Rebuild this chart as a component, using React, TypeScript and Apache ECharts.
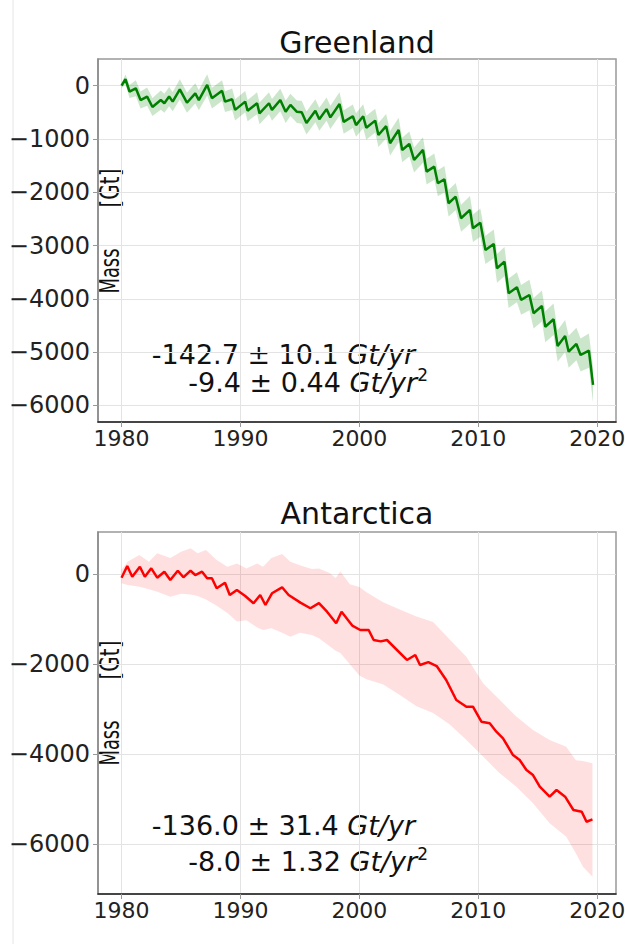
import React, { useEffect, useRef } from "react";
import * as echarts from "echarts";

// Greenland: [decimal year, mass (Gt), 1-sigma uncertainty (Gt)]
const greenlandObs: [number, number, number][] = [
  [1980.0, 0, 50], [1980.33, 120, 90], [1980.67, -110, 120], [1981.2, -50, 150],
  [1981.6, -270, 160], [1982.15, -205, 170], [1982.6, -400, 170], [1983.3, -270, 180],
  [1983.6, -330, 180], [1984.0, -205, 180], [1984.3, -300, 180], [1984.9, -70, 190],
  [1985.5, -320, 190], [1986.2, -145, 190], [1986.5, -270, 190], [1987.2, 15, 200],
  [1987.6, -235, 195], [1988.45, -95, 195], [1988.7, -300, 195], [1989.3, -255, 200],
  [1989.55, -455, 200], [1990.4, -300, 200], [1990.6, -470, 200], [1991.4, -330, 205],
  [1991.6, -520, 205], [1992.4, -330, 205], [1992.65, -455, 205], [1993.35, -270, 210],
  [1993.8, -490, 210], [1994.2, -360, 210], [1994.75, -490, 210], [1995.15, -500, 215],
  [1995.55, -700, 215], [1996.3, -470, 215], [1996.63, -630, 215], [1997.24, -440, 220],
  [1997.56, -595, 220], [1998.33, -345, 220], [1998.68, -680, 220], [1999.45, -575, 220],
  [1999.72, -740, 220], [2000.32, -575, 225], [2000.58, -790, 225], [2001.33, -656, 225],
  [2001.6, -925, 225], [2002.25, -760, 230], [2002.58, -1080, 230], [2003.3, -830, 230],
  [2003.6, -1206, 230], [2004.2, -1094, 235], [2004.6, -1394, 235], [2005.35, -1206, 240],
  [2005.65, -1613, 240], [2006.3, -1520, 245], [2006.6, -1831, 245], [2007.15, -1756, 250],
  [2007.5, -2206, 250], [2008.1, -2083, 255], [2008.55, -2488, 255], [2009.3, -2332, 260],
  [2009.55, -2675, 260], [2010.17, -2570, 265], [2010.6, -3082, 265], [2011.3, -2970, 270],
  [2011.57, -3426, 270], [2012.2, -3302, 275], [2012.55, -3895, 275], [2013.25, -3782, 280],
  [2013.6, -4020, 280], [2014.3, -3927, 285], [2014.65, -4270, 285], [2015.35, -4133, 290],
  [2015.63, -4522, 290], [2016.33, -4383, 295], [2016.67, -4884, 295], [2017.3, -4696, 300],
  [2017.6, -4991, 300], [2018.25, -4846, 305], [2018.6, -5053, 310], [2019.3, -4972, 320],
  [2019.65, -5615, 335],
];

// Antarctica mass line: [decimal year, mass (Gt)]
const antarcticaMass: [number, number][] = [
  [1980.0, -75], [1980.48, 184], [1980.9, -53], [1981.54, 169], [1981.96, -53],
  [1982.5, 133], [1983.0, -75], [1983.6, 58], [1984.1, -127], [1984.73, 80],
  [1985.2, -67], [1985.8, 80], [1986.2, -16], [1986.77, 58], [1987.2, -89],
  [1987.6, -89], [1988.0, -311], [1988.7, -187], [1989.1, -460], [1989.7, -349],
  [1990.4, -482], [1991.1, -644], [1991.66, -460], [1992.1, -682], [1992.65, -422],
  [1993.5, -289], [1994.05, -460], [1995.04, -630], [1995.88, -755], [1996.6, -640],
  [1997.28, -831], [1998.05, -1089], [1998.5, -831], [1999.4, -1140], [2000.08, -1238],
  [2000.78, -1238], [2001.2, -1460], [2001.8, -1490], [2002.32, -1460], [2003.16, -1682],
  [2004.0, -1904], [2004.7, -1793], [2005.1, -2016], [2005.8, -1950], [2006.5, -2038],
  [2007.3, -2349], [2008.15, -2793], [2009.0, -2942], [2009.55, -2942], [2010.26, -3276],
  [2010.96, -3311], [2011.52, -3498], [2012.08, -3644], [2012.92, -4016], [2013.48, -4127],
  [2014.05, -4349], [2014.6, -4460], [2015.17, -4720], [2016.0, -4942], [2016.58, -4793],
  [2017.3, -4942], [2018.0, -5238], [2018.7, -5276], [2019.1, -5498], [2019.6, -5444],
];

// Antarctica uncertainty envelope: [decimal year, upper (Gt), lower (Gt)]
const antarcticaBand: [number, number, number][] = [
  [1980.0, 100, -200], [1980.5, 280, -240], [1981.5, 430, -275], [1982.3, 280, -330],
  [1983.0, 470, -390], [1984.1, 360, -500], [1985.0, 500, -430], [1985.8, 580, -450],
  [1986.4, 470, -480], [1987.1, 540, -560], [1988.0, 320, -700], [1988.9, 170, -860],
  [1989.7, 240, -1050], [1990.5, 130, -1020], [1991.4, 240, -1180], [1991.9, 170, -1240],
  [1992.6, 360, -1200], [1993.5, 450, -1300], [1994.2, 280, -1390], [1995.0, 200, -1300],
  [1996.0, 120, -1350], [1996.6, 130, -1420], [1997.5, 30, -1600], [1998.0, -80, -1700],
  [1998.4, 60, -1750], [1999.2, -220, -2000], [2000.0, -280, -2250], [2000.6, -400, -2330],
  [2002.0, -620, -2450], [2003.4, -780, -2680], [2004.8, -940, -2930], [2006.2, -1060, -3080],
  [2007.6, -1450, -3340], [2009.0, -1830, -3680], [2010.4, -2420, -4050], [2011.8, -2790, -4420],
  [2013.2, -3160, -4720], [2014.6, -3460, -5090], [2016.0, -3680, -5530], [2017.4, -3830, -5830],
  [2018.2, -4130, -6200], [2018.8, -4150, -6500], [2019.6, -4200, -6720],
];

const xTicks = [1980, 1990, 2000, 2010, 2020];
const greenlandYTicks = [-6000, -5000, -4000, -3000, -2000, -1000, 0];
const antarcticaYTicks = [-6000, -4000, -2000, 0];

const titles = ["Greenland", "Antarctica"];
const greenlandRates = ["-142.7 ± 10.1 ", "-9.4 ± 0.44 "];
const antarcticaRates = ["-136.0 ± 31.4 ", "-8.0 ± 1.32 "];

const FONT = "DejaVu Sans";

export default function App() {
  const ref = useRef<HTMLDivElement>(null);

  useEffect(() => {
    if (!ref.current) return;
    const chart = echarts.init(ref.current, undefined, { renderer: "svg" });

    const fmtY = (v: number) => (v < 0 ? "\u2212" + Math.abs(v) : String(v));

    const mkX = (gridIndex: number) => ({
      type: "value",
      gridIndex,
      min: 1978.02,
      max: 2021.58,
      axisLine: { show: true, onZero: false, lineStyle: { color: "#222", width: 1.5 } },
      axisTick: { show: true, length: 5, customValues: xTicks, lineStyle: { color: "#999" } },
      axisLabel: {
        customValues: xTicks,
        formatter: (v: number) => String(v),
        fontFamily: FONT,
        fontSize: 22,
        color: "#222",
        margin: 5,
      },
      splitLine: { show: true, lineStyle: { color: "#e3e3e3", width: 1 } },
    });

    const mkY = (gridIndex: number, min: number, max: number, ticks: number[]) => ({
      type: "value",
      gridIndex,
      min,
      max,
      axisLine: { show: true, onZero: false, lineStyle: { color: "#888", width: 1.5 } },
      axisTick: { show: true, length: 5, customValues: ticks, lineStyle: { color: "#999" } },
      axisLabel: {
        customValues: ticks,
        formatter: fmtY,
        fontFamily: FONT,
        fontSize: 24,
        color: "#222",
        margin: 8,
      },
      splitLine: { show: true, lineStyle: { color: "#e3e3e3", width: 1 } },
    });

    const gBand = greenlandObs.map((d) => [d[0], d[1] + d[2], d[1] - d[2]]);
    const gLine = greenlandObs.map((d) => [d[0], d[1]]);
    const aBand = antarcticaBand.map((d) => [d[0], d[1], d[2]]);

    const bandSeries = (axis: number, band: number[][], fill: string) => ({
      type: "custom",
      xAxisIndex: axis,
      yAxisIndex: axis,
      data: band,
      encode: { x: 0, y: [1, 2] },
      silent: true,
      z: 1,
      renderItem: (params: any, api: any) => {
        if (params.dataIndex !== 0) return null;
        const upper = band.map((d) => api.coord([d[0], d[1]]));
        const lower = band.map((d) => api.coord([d[0], d[2]])).reverse();
        return {
          type: "polygon",
          shape: { points: upper.concat(lower) },
          style: { fill },
        };
      },
    });

    const rich = {
      n: { fontFamily: FONT, fontSize: 27, fill: "#111", lineHeight: 32 },
      i: { fontFamily: FONT, fontSize: 27, fill: "#111", fontStyle: "italic", lineHeight: 32 },
      s: { fontFamily: FONT, fontSize: 17, fill: "#111", verticalAlign: "top", lineHeight: 32 },
    };

    const annot = (rates: string[], yc1: number, yc2: number) => [
      {
        type: "text",
        x: 415,
        y: yc1,
        style: { text: `{n|${rates[0]}}{i|Gt/yr}`, rich, align: "right", verticalAlign: "middle", fill: "#111" },
      },
      {
        type: "text",
        x: 428,
        y: yc2,
        style: { text: `{n|${rates[1]}}{i|Gt/yr}{s|2}`, rich, align: "right", verticalAlign: "middle", fill: "#111" },
      },
    ];

    const ylabStyle = { fontFamily: FONT, fontSize: 27, fill: "#111", align: "center", verticalAlign: "middle" };
    const ylab = (yGt: number, yMass: number) => [
      { type: "text", x: 110, y: yGt, rotation: Math.PI / 2, scaleX: 0.74, style: { ...ylabStyle, text: "[Gt]" } },
      { type: "text", x: 110, y: yMass, rotation: Math.PI / 2, scaleX: 0.66, style: { ...ylabStyle, text: "Mass" } },
    ];

    const titleText = (text: string, y: number) => ({
      type: "text",
      x: 357,
      y,
      style: { text, fontFamily: FONT, fontSize: 30, fill: "#111", align: "center", verticalAlign: "middle" },
    });

    chart.setOption({
      animation: false,
      backgroundColor: "#fff",
      grid: [
        { left: 98, top: 59, width: 518, height: 363, show: true, borderColor: "#999", borderWidth: 1.5, containLabel: false, outerBoundsMode: "none" },
        { left: 98, top: 532, width: 518, height: 362, show: true, borderColor: "#999", borderWidth: 1.5, containLabel: false, outerBoundsMode: "none" },
      ],
      xAxis: [mkX(0), mkX(1)],
      yAxis: [mkY(0, -6310, 500, greenlandYTicks), mkY(1, -7104, 940, antarcticaYTicks)],
      graphic: [
        { type: "line", shape: { x1: 13, y1: 0, x2: 13, y2: 944 }, style: { stroke: "#e6e6e6", lineWidth: 1 } },
        titleText(titles[0], 42),
        titleText(titles[1], 513),
        ...annot(greenlandRates, 354, 382),
        ...annot(antarcticaRates, 825, 861),
        ...ylab(188, 271),
        ...ylab(660, 743),
      ],
      series: [
        bandSeries(0, gBand, "rgba(0,128,0,0.2)"),
        {
          type: "line", xAxisIndex: 0, yAxisIndex: 0, data: gLine,
          symbol: "none", lineStyle: { color: "#008000", width: 2.5 }, z: 5,
        },
        bandSeries(1, aBand, "rgba(255,0,0,0.12)"),
        {
          type: "line", xAxisIndex: 1, yAxisIndex: 1, data: antarcticaMass,
          symbol: "none", lineStyle: { color: "#ff0000", width: 2.5 }, z: 5,
        },
      ],
    });

    return () => chart.dispose();
  }, []);

  return (
    <div
      ref={ref}
      style={{ position: "fixed", left: 0, top: 0, width: 625, height: 944, background: "#fff" }}
    />
  );
}
